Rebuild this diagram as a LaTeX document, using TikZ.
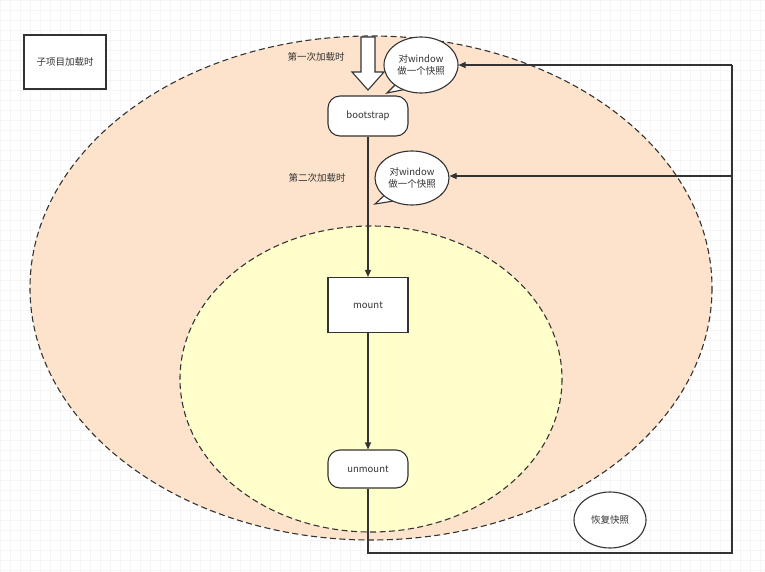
\documentclass[tikz,border=0pt]{standalone}
\usepackage{fontspec}
\setmainfont{Noto Sans CJK SC}
\usetikzlibrary{shapes.geometric,arrows.meta}
\definecolor{outerfill}{HTML}{FDE3CC}
\definecolor{innerfill}{HTML}{FFFFCC}
\definecolor{ln}{HTML}{333333}
\tikzset{
  every node/.style={font=\fontsize{9.5}{12}\selectfont, text=ln},
  stepbox/.style={draw=ln, fill=white, line width=1.1pt, minimum width=80pt, inner sep=0pt},
  bubble/.style={ellipse, draw=ln, fill=white, line width=1.1pt, inner sep=0pt, align=center},
  conn/.style={draw=ln, line width=1.1pt, -{Triangle[length=7pt,width=6pt]}},
  zone/.style={draw=ln, line width=1.1pt, dash pattern=on 6pt off 3.5pt}
}
\begin{document}
\begin{tikzpicture}[x=1pt,y=-1pt]
\useasboundingbox (0,0) rectangle (765,572);
\fill[white] (0,0) rectangle (765,572);
\draw[black!4, step=10pt] (0,0) grid (765,572);
% zones
\draw[zone, fill=outerfill] (371,288) ellipse [x radius=341, y radius=252];
\draw[zone, fill=innerfill] (371,379) ellipse [x radius=191, y radius=153];
% title box
\node[draw=ln, line width=1.1pt, fill=white, minimum width=82pt, minimum height=54pt] (title) at (65,62) {子项目加载时};
% nodes
\node[stepbox, rounded corners=12pt, minimum height=40pt] (boot) at (368,116) {bootstrap};
\node[stepbox, minimum height=55pt] (mount) at (368,305) {mount};
\node[stepbox, rounded corners=12pt, minimum height=38pt] (unmount) at (368,469) {unmount};
% hollow arrow
\draw[ln, line width=1.1pt, fill=white] (361,37) -- (375,37) -- (375,72) -- (384,72) -- (368,90) -- (352,72) -- (361,72) -- cycle;
\node (l1) at (316,57) {第一次加载时};
\node (l2) at (317,178) {第二次加载时};
% callouts
\draw[ln, line width=1.1pt, fill=white] (400,80) -- (387,93) -- (412,88) -- cycle;
\node[bubble, minimum width=74pt, minimum height=56pt] (c1) at (421,65) {对window\\做一个快照};
\draw[ln, line width=1.1pt, fill=white] (388,192) -- (375,204) -- (400,200) -- cycle;
\node[bubble, minimum width=74pt, minimum height=54pt] (c2) at (412,178) {对window\\做一个快照};
\node[bubble, minimum width=72pt, minimum height=56pt] (c3) at (610,520) {恢复快照};
% connectors
\draw[conn] (boot) -- (mount);
\draw[conn] (mount) -- (unmount);
\coordinate (b1) at (368,553);
\coordinate (b2) at (732,553);
\coordinate (t1) at (732,65);
\coordinate (m1) at (732,176);
\draw[draw=ln, line width=1.1pt] (unmount) -- (b1) -- (b2) -- (t1);
\draw[conn] (t1) -- (c1);
\draw[conn] (m1) -- (c2.east |- m1);
\end{tikzpicture}
\end{document}
